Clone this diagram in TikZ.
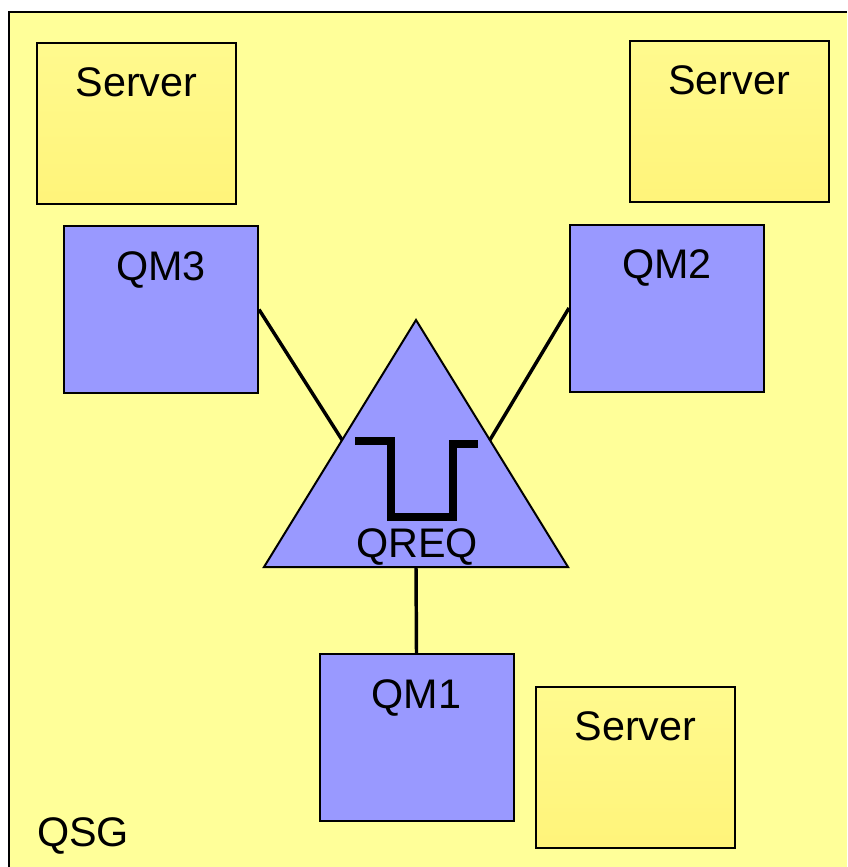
\documentclass[tikz,border=0pt]{standalone}
\usepackage{fontspec}
\setmainfont{Liberation Sans}
\usepackage{tikz}
\usetikzlibrary{calc}

\definecolor{qsgfill}{HTML}{FFFF99}
\definecolor{srvlight}{HTML}{FFFA8E}
\definecolor{srvdark}{HTML}{FFF47A}
\definecolor{qmfill}{HTML}{9999FF}

\begin{document}
\begin{tikzpicture}[
  x=0.75pt, y=-0.75pt,
  srv/.style={draw, line width=1.5pt, top color=srvlight, bottom color=srvdark,
    minimum width=149.25pt, inner sep=0pt, text height=39.75pt, text depth=81pt,
    font=\fontsize{31}{31}\selectfont},
  qm/.style={draw, line width=1.5pt, fill=qmfill,
    minimum width=145.5pt, inner sep=0pt, text height=40.5pt, text depth=84.75pt,
    font=\fontsize{31}{31}\selectfont},
  lbl/.style={inner sep=0pt, font=\fontsize{31}{31}\selectfont},
  link/.style={line width=2.6pt},
  pulse/.style={line width=6pt},
]
  \useasboundingbox (0,0) rectangle (847,867);

  % QSG frame
  \fill[qsgfill] (9,12) rectangle (847,867);
  \draw[line width=1.5pt] (9,867) -- (9,12) -- (847,12);
  \node[lbl, anchor=base west] (qsg) at (37,846) {QSG};

  % Servers
  \node[srv] (srvA) at (136.5,123.5) {Server};
  \node[srv] (srvB) at (729,121.5)   {Server};
  \node[srv] (srvC) at (635.5,767.5) {Server};

  % Queue managers
  \node[qm] (qm3) at (161,309.5)   {QM3};
  \node[qm] (qm2) at (667,308)     {QM2};
  \node[qm] (qm1) at (416.5,737.5) {QM1};

  % Shared queue
  \coordinate (apex) at (416,320);
  \coordinate (tbl)  at (264,567);
  \coordinate (tbr)  at (568,567);
  \draw[line width=1.5pt, fill=qmfill] (apex) -- (tbl) -- (tbr) -- cycle;
  \coordinate (qreqL) at ($(apex)!0.486!(tbl)$);
  \coordinate (qreqR) at ($(apex)!0.486!(tbr)$);
  \coordinate (qreqB) at ($(tbl)!0.5!(tbr)$);
  \draw[pulse] (355,441) -| (391,517) -| (453,444) -- (478,444);
  \node[lbl, anchor=base] (qreq) at (417,557) {QREQ};

  % Links
  \draw[link] (qm3.east) -- (qreqL);
  \draw[link] (qm2.west) -- (qreqR);
  \draw[link] (qreqB) -- (qm1.north);
\end{tikzpicture}
\end{document}
